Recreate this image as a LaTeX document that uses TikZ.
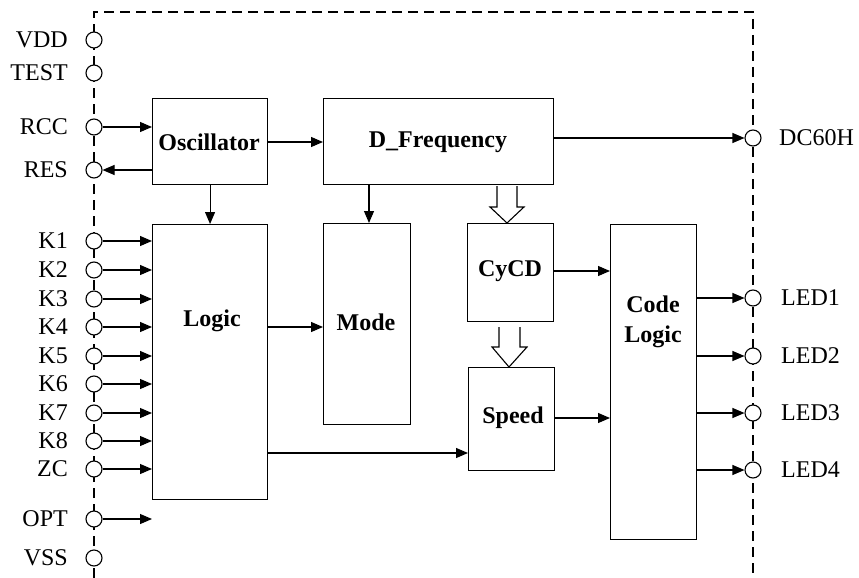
\documentclass[tikz,border=0pt]{standalone}
\usepackage{fontspec}
\setmainfont{Liberation Serif}
\usetikzlibrary{arrows.meta,calc}
\begin{document}
\begin{tikzpicture}[x=1pt,y=-1pt,
  box/.style={draw,line width=1.1pt,inner sep=0pt,anchor=north west},
  pin/.style={draw,circle,fill=white,line width=1.1pt,minimum size=16pt,inner sep=0pt},
  lab/.style={font=\fontsize{24}{27}\selectfont,inner sep=0pt},
  blab/.style={font=\fontsize{24}{27}\selectfont\bfseries,inner sep=0pt,align=center},
  arr/.style={line width=1.1pt,-{Triangle[length=12pt,width=10pt]}},
  hollow/.style={draw,line width=1.1pt,fill=white},
  border/.style={line width=1.8pt,dash pattern=on 10pt off 6pt}]
\useasboundingbox (0,0) rectangle (859,578);
% chip border
\coordinate (bl) at (94,578);
\coordinate (tl) at (94,12);
\coordinate (tr) at (753,12);
\coordinate (br) at (753,578);
\draw[border] (bl) -- (tl) -- (tr) -- (br);
% boxes
\node[box,minimum width=115pt,minimum height=86pt] (osc) at (152,98) {};
\node[blab] (oscT) at (209,142) {Oscillator};
\node[box,minimum width=230pt,minimum height=86pt] (dfr) at (323,98) {};
\node[blab] (dfrT) at (438,142) {D\_Frequency};
\node[box,minimum width=115pt,minimum height=275pt] (logic) at (152,224) {};
\node[blab] (logicT) at (212,321) {Logic};
\node[box,minimum width=87pt,minimum height=201pt] (mode) at (323,223) {};
\node[blab] (modeT) at (366,322) {Mode};
\node[box,minimum width=86pt,minimum height=98pt] (cycd) at (467,223) {};
\node[blab] (cycdT) at (510,271) {CyCD};
\node[box,minimum width=86pt,minimum height=103pt] (speed) at (468,367) {};
\node[blab] (speedT) at (513,418) {Speed};
\node[box,minimum width=86pt,minimum height=315pt] (code) at (610,224) {};
\node[blab] (codeT) at (653,322) {Code\\[3pt]Logic};
% left pins
\foreach \n/\t/\y in {vdd/VDD/40, test/TEST/73, rcc/RCC/127, res/RES/170,
  k1/K1/241, k2/K2/270, k3/K3/299, k4/K4/327, k5/K5/356, k6/K6/384,
  k7/K7/413, k8/K8/441, zc/ZC/469, opt/OPT/519, vss/VSS/558}{
  \node[pin] (\n) at (94,\y) {};
  \node[lab,anchor=east] (\n T) at (68,\y) {\t};
}
% right pins
\node[pin] (dc) at (753,138) {};
\node[lab,anchor=west] (dcT) at (779,138) {DC60H};
\foreach \n/\t/\y in {led1/LED1/298, led2/LED2/356, led3/LED3/413, led4/LED4/470}{
  \node[pin] (\n) at (753,\y) {};
  \node[lab,anchor=west] (\n T) at (781,\y) {\t};
}
% connectors
\draw[arr] (rcc.east) -- (rcc.east -| osc.west);
\draw[arr] (res.east -| osc.west) -- (res.east);
\foreach \n in {k1,k2,k3,k4,k5,k6,k7,k8,zc}{
  \draw[arr] (\n.east) -- (\n.east -| logic.west);
}
\coordinate (optend) at (152,519);
\draw[arr] (opt.east) -- (optend);
\draw[arr] (osc.south) -- (osc.south |- logic.north);
\draw[arr] (osc.east |- dfrT) -- (dfr.west |- dfrT);
\draw[arr] (dfr.east |- dc) -- (dc.west);
\coordinate (dm) at (369,184);
\draw[arr] (dm) -- (dm |- mode.north);
\coordinate (lm) at (267,327);
\draw[arr] (lm) -- (lm -| mode.west);
\coordinate (ls) at (267,453);
\draw[arr] (ls) -- (ls -| speed.west);
\draw[arr] (cycd.east |- cycdT) -- (code.west |- cycdT);
\draw[arr] (speed.east |- speedT) -- (code.west |- speedT);
\foreach \n in {led1,led2,led3,led4}{
  \draw[arr] (code.east |- \n) -- (\n.west);
}
% hollow arrows
\draw[hollow] (497,186) -- (497,207) -- (490,207) -- (cycd.north -| 507,0) -- (524,207) -- (517,207) -- (517,186);
\draw[hollow] (499,327) -- (499,347) -- (492,347) -- (speed.north -| 509,0) -- (527,347) -- (520,347) -- (520,327);
\end{tikzpicture}
\end{document}
